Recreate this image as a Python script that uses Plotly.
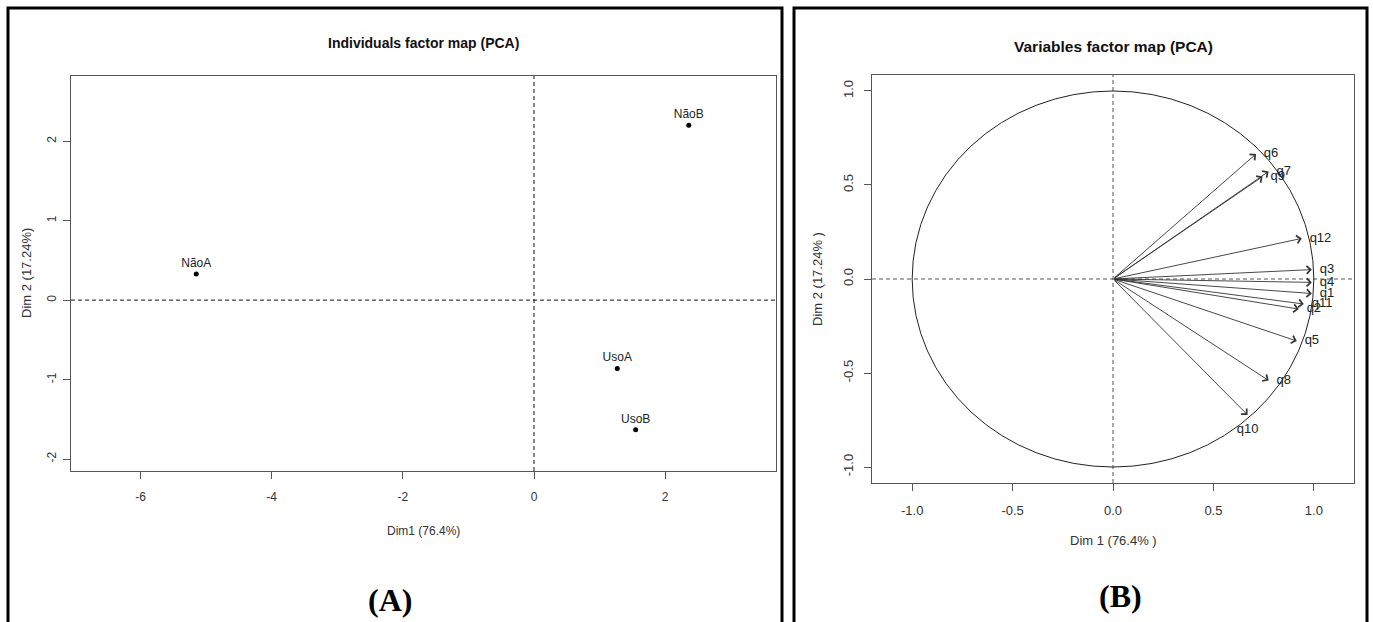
import plotly.graph_objects as go

# ---------------- data ----------------
ind_names = ["NãoA", "NãoB", "UsoA", "UsoB"]
ind_dim1 = [-5.15, 2.36, 1.27, 1.55]
ind_dim2 = [0.33, 2.20, -0.86, -1.63]

var_names = ["q1", "q2", "q3", "q4", "q5", "q6", "q7", "q8", "q9", "q10", "q11", "q12"]
var_dim1 = [0.99, 0.925, 0.99, 0.99, 0.915, 0.712, 0.775, 0.775, 0.745, 0.67, 0.95, 0.94]
var_dim2 = [-0.077, -0.16, 0.05, -0.018, -0.33, 0.665, 0.572, -0.54, 0.545, -0.723, -0.133, 0.216]
var_label_pos = ["middle right"] * 9 + ["bottom center"] + ["middle right"] * 2

ind_xticks = [-6, -4, -2, 0, 2]
ind_xticktext = ["-6", "-4", "-2", "0", "2"]
ind_yticks = [-2, -1, 0, 1, 2]
ind_yticktext = ["-2", "-1", "0", "1", "2"]
var_ticks = [-1.0, -0.5, 0.0, 0.5, 1.0]
var_ticktext = ["-1.0", "-0.5", "0.0", "0.5", "1.0"]

title_a = "Individuals factor map (PCA)"
title_b = "Variables factor map (PCA)"
xlab_a = "Dim1 (76.4%)"
ylab_a = "Dim 2 (17.24%)"
xlab_b = "Dim 1 (76.4% )"
ylab_b = "Dim 2 (17.24% )"

# ---------------- layout helpers ----------------
W, H = 1373, 622
def px(x):
    return x / W
def py(y):
    return 1 - y / H

SANS = "Liberation Sans, Arial, sans-serif"
SERIF = "Liberation Serif, Times New Roman, serif"

fig = go.Figure()

# Individuals
fig.add_trace(go.Scatter(
    x=ind_dim1, y=ind_dim2, text=ind_names, mode="markers+text",
    textposition="top center",
    marker=dict(color="black", size=5),
    textfont=dict(family=SANS, size=12, color="#222"),
    xaxis="x", yaxis="y", showlegend=False, hoverinfo="text"))

# Variables (label anchors at arrow tips)
fig.add_trace(go.Scatter(
    x=var_dim1, y=var_dim2, text=var_names, mode="markers+text",
    textposition=var_label_pos,
    marker=dict(size=11, color="rgba(0,0,0,0)"),
    textfont=dict(family=SANS, size=13, color="#222"),
    xaxis="x2", yaxis="y2", showlegend=False, hoverinfo="text"))

axis_common = dict(
    showgrid=False, zeroline=False, showline=True, mirror=True,
    linecolor="#555", linewidth=1, ticks="outside", ticklen=7,
    tickcolor="#555", tickwidth=1,
)

fig.update_layout(
    width=W, height=H,
    margin=dict(l=0, r=0, t=0, b=0),
    paper_bgcolor="white", plot_bgcolor="white",
    xaxis=dict(domain=[px(71), px(776)], range=[-7.06, 3.69],
               tickvals=ind_xticks, ticktext=ind_xticktext, anchor="y",
               tickfont=dict(family=SANS, size=12, color="#333"),
               ticklabelstandoff=8, **axis_common),
    yaxis=dict(domain=[py(471), py(76)], range=[-2.15, 2.82],
               tickvals=ind_yticks, ticktext=ind_yticktext, anchor="x", tickangle=-90,
               tickfont=dict(family=SANS, size=12, color="#333"),
               ticklabelstandoff=2, **axis_common),
    xaxis2=dict(domain=[px(872), px(1354)], range=[-1.2, 1.2],
                tickvals=var_ticks, ticktext=var_ticktext, anchor="y2",
                tickfont=dict(family=SANS, size=13, color="#333"),
                ticklabelstandoff=8, **axis_common),
    yaxis2=dict(domain=[py(483), py(75)], range=[-1.085, 1.085],
                tickvals=var_ticks, ticktext=var_ticktext, anchor="x2", tickangle=-90,
                tickfont=dict(family=SANS, size=13, color="#333"),
                ticklabelstandoff=6, **axis_common),
)

shapes = []
# dashed reference lines
for xr, yr, col in (("x", "y", "#111"), ("x2", "y2", "#555")):
    shapes.append(dict(type="line", xref=xr + " domain", x0=0, x1=1, yref=yr, y0=0, y1=0,
                       line=dict(color=col, width=1, dash="4px,3px")))
    shapes.append(dict(type="line", yref=yr + " domain", y0=0, y1=1, xref=xr, x0=0, x1=0,
                       line=dict(color=col, width=1, dash="4px,3px")))
# correlation circle
shapes.append(dict(type="circle", xref="x2", yref="y2", x0=-1, y0=-1, x1=1, y1=1,
                   line=dict(color="#222", width=1)))
# panel frames
shapes.append(dict(type="rect", xref="paper", yref="paper",
                   x0=px(8), x1=px(782), y0=py(640), y1=py(8),
                   line=dict(color="black", width=3)))
shapes.append(dict(type="rect", xref="paper", yref="paper",
                   x0=px(794), x1=px(1367), y0=py(640), y1=py(8),
                   line=dict(color="black", width=3)))
fig.update_layout(shapes=shapes)

ann = []
# arrows
for vx, vy in zip(var_dim1, var_dim2):
    ann.append(dict(x=vx, y=vy, xref="x2", yref="y2", ax=0, ay=0, axref="x2", ayref="y2",
                    text="", showarrow=True, arrowhead=4, arrowsize=1.7, arrowwidth=0.9,
                    arrowcolor="#333", standoff=0, startstandoff=0))

def txt(t, x, y, size, bold=False, family=SANS, angle=0, color="#222"):
    return dict(text=t, x=px(x), y=py(y), xref="paper", yref="paper",
                showarrow=False, xanchor="center", yanchor="middle", textangle=angle,
                font=dict(family=family, size=size, color=color,
                          weight="bold" if bold else "normal"))

ann += [
    txt(title_a, 423, 43, 14, bold=True, color="#111"),
    txt(xlab_a, 423, 531, 12, color="#333"),
    txt(ylab_a, 27, 273, 13, angle=-90, color="#333"),
    txt("(A)", 390, 600, 32, bold=True, family=SERIF, color="#000"),
    txt(title_b, 1113, 46, 15.5, bold=True, color="#111"),
    txt(xlab_b, 1113, 540, 13, color="#333"),
    txt(ylab_b, 817, 279, 13, angle=-90, color="#333"),
    txt("(B)", 1120, 596, 32, bold=True, family=SERIF, color="#000"),
]
fig.update_layout(annotations=ann)

fig.write_html("out.html",
               config={"displayModeBar": False},
               post_script="document.body.style.margin='0';document.body.style.overflow='hidden';")
